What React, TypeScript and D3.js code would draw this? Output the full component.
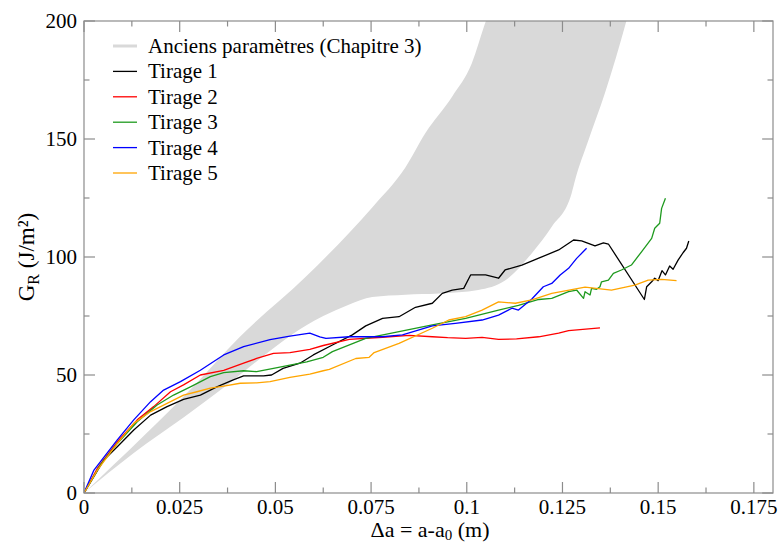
import React, { useEffect } from "react";
import * as d3 from "d3";

const W = 779;
const H = 544;

const xTicksMajor = [0, 0.025, 0.05, 0.075, 0.1, 0.125, 0.15, 0.175];
const xTickLabels = ["0", "0.025", "0.05", "0.075", "0.1", "0.125", "0.15", "0.175"];
const xTicksMinor = [0.0125, 0.0375, 0.0625, 0.0875, 0.1125, 0.1375, 0.1625];
const yTicksMajor = [0, 50, 100, 150, 200];
const yTicksMinor = [25, 75, 125, 175];

const bandUpper: [number, number][] = [
  [0, 0], [0.0155, 24], [0.0285, 45], [0.0406, 66], [0.058, 91.7], [0.0753, 121],
  [0.084, 138], [0.0892, 152.5], [0.0962, 168], [0.1013, 182], [0.105, 200], [0.108, 212],
];
const bandLower: [number, number][] = [
  [0, 0], [0.013, 17], [0.026, 32], [0.038, 46.5], [0.05, 62], [0.058, 71], [0.0625, 75],
  [0.069, 79.7], [0.0753, 83], [0.084, 84], [0.0927, 84.5], [0.103, 86], [0.11, 90],
  [0.117, 101.6], [0.1222, 112.8], [0.1274, 127], [0.1283, 132.6], [0.1318, 149.6],
  [0.1361, 169.5], [0.1417, 200], [0.1437, 212],
];

const tirage1: [number, number][] = [
  [0, 0], [0.0052, 14], [0.0087, 19.6], [0.013, 26.7], [0.0174, 33], [0.0217, 36.6], [0.026, 39.7],
  [0.0304, 41.5], [0.0347, 45], [0.039, 47.9], [0.0417, 49.6], [0.0469, 49.6], [0.049, 50],
  [0.052, 52.8], [0.0564, 55], [0.0599, 58.5], [0.0649, 62.7], [0.0701, 67], [0.0736, 70.8],
  [0.078, 74], [0.0823, 74.7], [0.0866, 78.7], [0.091, 80.4], [0.0936, 84.6], [0.0962, 86],
  [0.0992, 86.7], [0.101, 92.4], [0.1049, 92.4], [0.1083, 91], [0.11, 94.5], [0.1144, 96.6],
  [0.1188, 99.5], [0.124, 103], [0.1279, 107.2], [0.13, 106.8], [0.1335, 104.7], [0.1357, 106],
  [0.137, 105.5], [0.1464, 82], [0.147, 87.4], [0.1483, 89.5], [0.1491, 91], [0.15, 90],
  [0.151, 94.2], [0.1519, 92.4], [0.153, 96.2], [0.1539, 94.8], [0.1552, 98.7], [0.1565, 101.8],
  [0.1574, 103.7], [0.158, 106.8],
];
const tirage2: [number, number][] = [
  [0, 0], [0.0035, 10.5], [0.0087, 21.7], [0.0139, 31], [0.0182, 36.6], [0.0226, 42.9], [0.026, 45.8],
  [0.0304, 50], [0.0365, 52], [0.0417, 55], [0.0451, 57], [0.0495, 59.2], [0.0538, 59.5],
  [0.059, 60.9], [0.0625, 62.5], [0.0693, 65.1], [0.078, 66], [0.085, 66.8], [0.091, 66.2],
  [0.095, 65.8], [0.0997, 65.5], [0.104, 65.9], [0.1083, 65.1], [0.113, 65.3], [0.1188, 66.2],
  [0.124, 67.7], [0.1266, 68.8], [0.1348, 70],
];
const tirage3: [number, number][] = [
  [0, 0], [0.0043, 11.9], [0.0087, 21], [0.0139, 30.2], [0.0191, 37.3], [0.0234, 41.5], [0.0278, 45],
  [0.033, 49.3], [0.0365, 51], [0.0417, 51.8], [0.0451, 51.4], [0.0495, 52.8], [0.0538, 54.2],
  [0.0582, 55.6], [0.0625, 57.5], [0.0649, 59.9], [0.0736, 65.5], [0.0823, 68.4], [0.091, 71.2],
  [0.0997, 74], [0.1083, 77.5], [0.1135, 79.5], [0.1188, 82], [0.1222, 82.5], [0.1266, 85.3],
  [0.1287, 86], [0.1305, 82.5], [0.1309, 85.3], [0.1322, 83.9], [0.1326, 86.7], [0.1339, 86.3],
  [0.1348, 87.4], [0.1352, 89.5], [0.137, 90.2], [0.1383, 93.1], [0.1404, 94.5], [0.143, 96.6],
  [0.1457, 102.3], [0.1483, 107.9], [0.1491, 112.2], [0.1504, 114.3], [0.1509, 120.6], [0.1519, 124.9],
];
const tirage4: [number, number][] = [
  [0, 0], [0.0026, 9.7], [0.0087, 22.5], [0.013, 31], [0.0174, 38.7], [0.0208, 43.6], [0.0252, 47.2],
  [0.0304, 52], [0.0365, 58.5], [0.0417, 62], [0.0486, 65], [0.0538, 66.5], [0.059, 67.7],
  [0.0616, 66.2], [0.0632, 65.5], [0.0693, 66.2], [0.078, 66.2], [0.0832, 67], [0.091, 70.8],
  [0.097, 71.9], [0.104, 73.3], [0.1083, 75.4], [0.1118, 78.3], [0.1135, 77.5], [0.117, 82.2],
  [0.12, 87.4], [0.1222, 88.8], [0.1244, 92.4], [0.1266, 95.2], [0.1287, 99.4], [0.1313, 103.7],
];
const tirage5: [number, number][] = [
  [0, 0], [0.0035, 9.7], [0.0087, 21], [0.013, 29.5], [0.0174, 34.5], [0.0217, 38], [0.026, 41.5],
  [0.0295, 42.9], [0.033, 44.4], [0.0365, 45.3], [0.0408, 46.5], [0.0451, 46.7], [0.0486, 47.2],
  [0.0538, 49], [0.059, 50.4], [0.0625, 51.8], [0.0641, 52.4], [0.071, 57], [0.0745, 57.5],
  [0.0758, 59.5], [0.0823, 63.4], [0.091, 69.8], [0.0953, 73.3], [0.0997, 74.7], [0.104, 77.5],
  [0.1083, 81], [0.1127, 80.4], [0.117, 81.8], [0.1222, 84.6], [0.1309, 87.2], [0.1378, 86],
  [0.1439, 88.1], [0.1474, 90.2], [0.1509, 90.5], [0.1548, 90],
];

const seriesNames = ["Tirage 1", "Tirage 2", "Tirage 3", "Tirage 4", "Tirage 5"];
const seriesData = [tirage1, tirage2, tirage3, tirage4, tirage5];
const seriesColors = ["#000000", "#ff0000", "#1e9a1e", "#0000ff", "#ffa500"];
const bandName = "Anciens paramètres (Chapitre 3)";
const bandColor = "#d9d9d9";

const L = 84, R = 773, T = 21, B = 493;
const FONT = '"Liberation Serif", "DejaVu Serif", serif';
const AXIS = "#8c8c8c";

export default function App() {
  useEffect(() => {
    document.body.style.margin = "0";
  }, []);
  const x = d3.scaleLinear().domain([0, 0.18]).range([L, R]);
  const y = d3.scaleLinear().domain([0, 200]).range([B, T]);
  const line = d3.line<[number, number]>().x((d) => x(d[0])).y((d) => y(d[1]));
  const smooth = d3.line<[number, number]>().x((d) => x(d[0])).y((d) => y(d[1])).curve(d3.curveMonotoneX);
  const upperPath = smooth(bandUpper) || "";
  const lowerPathRev = smooth(bandLower.slice().reverse()) || "";
  const bandPath = upperPath + "L" + lowerPathRev.slice(1) + "Z";

  const legendX0 = 113, legendX1 = 137, legendTX = 148;
  const legendY0 = 46, legendDY = 25.4;
  const txt = { fontFamily: FONT } as React.CSSProperties;

  return (
    <svg width={W} height={H} style={{ position: "absolute", left: 0, top: 0, background: "#fff", fontFamily: FONT }}>
      <defs>
        <clipPath id="plotclip">
          <rect x={L} y={T} width={R - L} height={B - T} />
        </clipPath>
      </defs>
      <g clipPath="url(#plotclip)">
        <path d={bandPath} fill={bandColor} stroke="none" />
        {seriesData.map((s, i) => (
          <path key={i} d={line(s) || ""} fill="none" stroke={seriesColors[i]} strokeWidth={1.3}
            strokeLinejoin="round" />
        ))}
      </g>
      <rect x={L} y={T} width={R - L} height={B - T} fill="none" stroke={AXIS} strokeWidth={1.2} />
      {xTicksMajor.map((t, i) => (
        <g key={"xM" + i}>
          <line x1={x(t)} x2={x(t)} y1={B} y2={B - 11} stroke={AXIS} strokeWidth={1.2} />
          <line x1={x(t)} x2={x(t)} y1={T} y2={T + 11} stroke={AXIS} strokeWidth={1.2} />
          <text style={txt} x={x(t)} y={514} fontSize={21} textAnchor="middle" fill="#000">{xTickLabels[i]}</text>
        </g>
      ))}
      {xTicksMinor.map((t, i) => (
        <g key={"xm" + i}>
          <line x1={x(t)} x2={x(t)} y1={B} y2={B - 5.5} stroke={AXIS} strokeWidth={1.2} />
          <line x1={x(t)} x2={x(t)} y1={T} y2={T + 5.5} stroke={AXIS} strokeWidth={1.2} />
        </g>
      ))}
      {yTicksMajor.map((t, i) => (
        <g key={"yM" + i}>
          <line x1={L} x2={L + 11} y1={y(t)} y2={y(t)} stroke={AXIS} strokeWidth={1.2} />
          <line x1={R} x2={R - 11} y1={y(t)} y2={y(t)} stroke={AXIS} strokeWidth={1.2} />
          <text style={txt} x={77} y={y(t) + 7} fontSize={21} textAnchor="end" fill="#000">{String(t)}</text>
        </g>
      ))}
      {yTicksMinor.map((t, i) => (
        <g key={"ym" + i}>
          <line x1={L} x2={L + 5.5} y1={y(t)} y2={y(t)} stroke={AXIS} strokeWidth={1.2} />
          <line x1={R} x2={R - 5.5} y1={y(t)} y2={y(t)} stroke={AXIS} strokeWidth={1.2} />
        </g>
      ))}
      <text style={txt} x={430} y={537} fontSize={22} textAnchor="middle" fill="#000">
        Δa = a-a<tspan fontSize={15} dy={3}>0</tspan><tspan dy={-3}> (m)</tspan>
      </text>
      <text style={txt} transform={`translate(34,${(T + B) / 2}) rotate(-90)`} fontSize={23} textAnchor="middle" fill="#000">
        G<tspan fontSize={16} dy={5}>R</tspan><tspan dy={-5}> (J/m²)</tspan>
      </text>
      <line x1={legendX0} x2={legendX1} y1={legendY0} y2={legendY0} stroke={bandColor} strokeWidth={3} />
      <text style={txt} x={legendTX} y={legendY0 + 7} fontSize={21} fill="#000">{bandName}</text>
      {seriesNames.map((n, i) => {
        const ly = legendY0 + legendDY * (i + 1);
        return (
          <g key={"lg" + i}>
            <line x1={legendX0} x2={legendX1} y1={ly} y2={ly} stroke={seriesColors[i]} strokeWidth={1.3} />
            <text style={txt} x={legendTX} y={ly + 7} fontSize={21} fill="#000">{n}</text>
          </g>
        );
      })}
    </svg>
  );
}
